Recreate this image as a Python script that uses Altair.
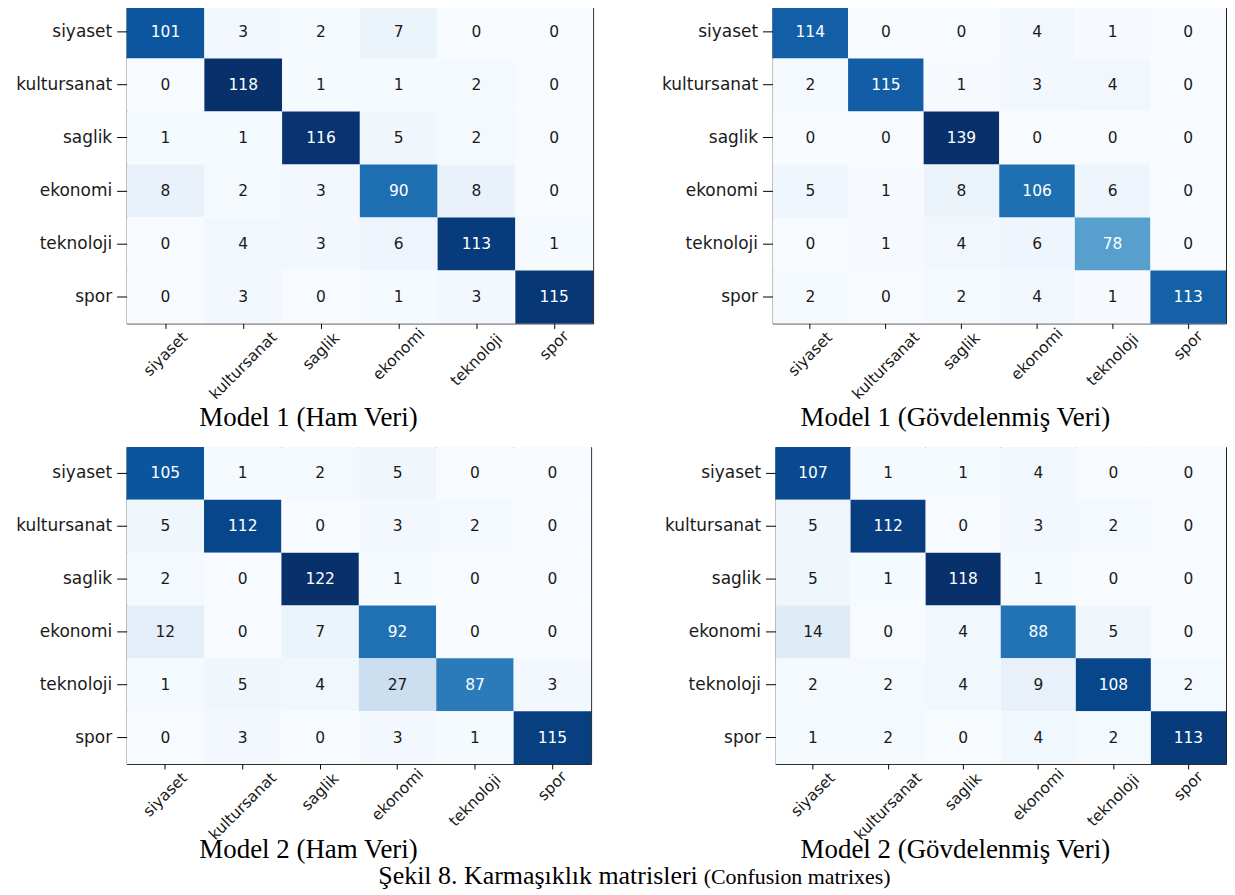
import altair as alt
import pandas as pd

CATEGORIES = ["siyaset", "kultursanat", "saglik", "ekonomi", "teknoloji", "spor"]

M1_HAM = [
    [101, 3, 2, 7, 0, 0],
    [0, 118, 1, 1, 2, 0],
    [1, 1, 116, 5, 2, 0],
    [8, 2, 3, 90, 8, 0],
    [0, 4, 3, 6, 113, 1],
    [0, 3, 0, 1, 3, 115],
]
M1_GOV = [
    [114, 0, 0, 4, 1, 0],
    [2, 115, 1, 3, 4, 0],
    [0, 0, 139, 0, 0, 0],
    [5, 1, 8, 106, 6, 0],
    [0, 1, 4, 6, 78, 0],
    [2, 0, 2, 4, 1, 113],
]
M2_HAM = [
    [105, 1, 2, 5, 0, 0],
    [5, 112, 0, 3, 2, 0],
    [2, 0, 122, 1, 0, 0],
    [12, 0, 7, 92, 0, 0],
    [1, 5, 4, 27, 87, 3],
    [0, 3, 0, 3, 1, 115],
]
M2_GOV = [
    [107, 1, 1, 4, 0, 0],
    [5, 112, 0, 3, 2, 0],
    [5, 1, 118, 1, 0, 0],
    [14, 0, 4, 88, 5, 0],
    [2, 2, 4, 9, 108, 2],
    [1, 2, 0, 4, 2, 113],
]

PANEL_TITLES = [
    "Model 1 (Ham Veri)",
    "Model 1 (Gövdelenmiş Veri)",
    "Model 2 (Ham Veri)",
    "Model 2 (Gövdelenmiş Veri)",
]
FIG_CAPTION = ["Şekil 8. Karmaşıklık matrisleri"]
FIG_CAPTION_EN = ["(Confusion matrixes)"]

# matplotlib "Blues" colormap stops
BLUES = ["#f7fbff", "#deebf7", "#c6dbef", "#9ecae1", "#6baed6",
         "#4292c6", "#2171b5", "#08519c", "#08306b"]

TXT = "#1a1a1a"
XFS = 15.5


def panel(matrix, title, width, height, title_x, title_y):
    mx = max(max(r) for r in matrix)
    rows = [
        {"actual": CATEGORIES[i], "pred": CATEGORIES[j], "v": matrix[i][j]}
        for i in range(len(CATEGORIES))
        for j in range(len(CATEGORIES))
    ]
    df = pd.DataFrame(rows)
    labs = pd.DataFrame({"pred": CATEGORIES})

    xs = alt.Scale(domain=CATEGORIES, paddingInner=0, paddingOuter=0)
    ys = alt.Scale(domain=CATEGORIES, paddingInner=0, paddingOuter=0)
    xax = alt.Axis(
        labels=False, ticks=True, tickSize=5, tickColor="#000", tickWidth=1,
        domain=False, grid=False, title=title,
        titleFont="Liberation Serif", titleFontSize=27, titleFontWeight="normal",
        titleColor="#000", titleX=title_x, titleY=title_y, titleAlign="center",
        titleBaseline="alphabetic", titleAngle=0,
    )
    yax = alt.Axis(
        labelFont="DejaVu Sans", labelFontSize=17, labelColor=TXT,
        tickSize=10, tickColor="#000", tickWidth=1, labelPadding=5,
        domain=False, grid=False, title=None, minExtent=118, maxExtent=118,
    )
    cscale = alt.Scale(
        domain=[mx * k / 8 for k in range(9)], range=BLUES,
        interpolate="rgb", clamp=True,
    )

    heat = alt.Chart(df).mark_rect().encode(
        x=alt.X("pred:N", scale=xs, axis=xax),
        y=alt.Y("actual:N", scale=ys, axis=yax),
        color=alt.Color("v:Q", scale=cscale, legend=None),
    )
    txt = alt.Chart(df).mark_text(font="DejaVu Sans", fontSize=15.5).encode(
        x=alt.X("pred:N", scale=xs, axis=xax),
        y=alt.Y("actual:N", scale=ys, axis=yax),
        text=alt.Text("v:Q"),
        color=alt.condition(f"datum.v > {mx / 2}", alt.value("white"), alt.value(TXT)),
    )
    cw = 0.53 * XFS
    dist = f"(5 + (length(datum.pred) * {cw} + {XFS}) * 0.3536)"
    xl = alt.Chart(labs).mark_text(
        font="DejaVu Sans", fontSize=XFS, color=TXT, angle=315,
        align="center", baseline="middle",
        dx={"expr": f"-0.7071 * {dist}"}, dy={"expr": f"0.7071 * {dist}"},
    ).encode(
        x=alt.X("pred:N", scale=xs, axis=xax),
        y=alt.value(height),
        text=alt.Text("pred:N"),
    )
    return alt.layer(heat, txt, xl).properties(width=width, height=height)


row1 = alt.hconcat(
    panel(M1_HAM, PANEL_TITLES[0], 468, 319, 182, 102),
    panel(M1_GOV, PANEL_TITLES[1], 455, 319, 183, 102),
    spacing=60,
).resolve_scale(color="independent")
row2 = alt.hconcat(
    panel(M2_HAM, PANEL_TITLES[2], 466, 318, 182, 94),
    panel(M2_GOV, PANEL_TITLES[3], 452, 318, 180, 94),
    spacing=65,
).resolve_scale(color="independent")
grid = alt.vconcat(row1, row2, spacing=15).resolve_scale(color="independent")

cap_main = alt.Chart(pd.DataFrame({"t": FIG_CAPTION})).mark_text(
    font="Liberation Serif", fontSize=26, align="right", baseline="alphabetic", color="#000"
).encode(text=alt.Text("t:N"), x=alt.value(573), y=alt.value(20))
cap_en = alt.Chart(pd.DataFrame({"t": FIG_CAPTION_EN})).mark_text(
    font="Liberation Serif", fontSize=22, align="left", baseline="alphabetic", color="#000"
).encode(text=alt.Text("t:N"), x=alt.value(579), y=alt.value(20))
caption = alt.layer(cap_main, cap_en).properties(
    width=900, height=24, view=alt.ViewBackground(stroke="transparent")
)

chart = (
    alt.vconcat(grid, caption, spacing=-23)
    .resolve_scale(color="independent")
    .properties(padding={"top": -5, "left": 0, "right": 0, "bottom": 0}, background="white")
    .configure_view(stroke="#222", strokeWidth=1)
)

chart.save("out.html", embed_options={"renderer": "svg", "actions": False})
